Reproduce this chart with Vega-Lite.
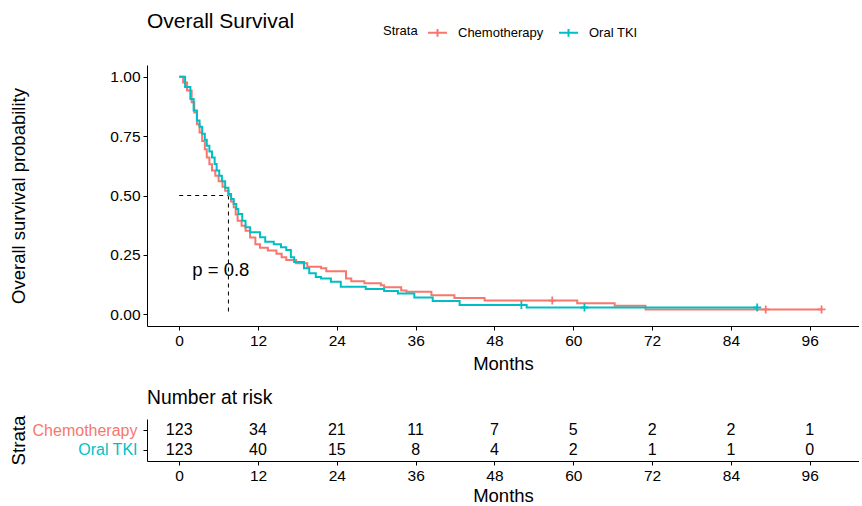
{
  "$schema": "https://vega.github.io/schema/vega-lite/v6.json",
  "padding": {"left": 9, "top": 11, "right": 0, "bottom": 0},
  "background": "white",
  "config": {
    "view": {"stroke": null},
    "font": "Liberation Sans",
    "axis": {"domainColor": "black", "tickColor": "black", "labelColor": "black", "titleColor": "black", "grid": false, "labelFont": "Liberation Sans", "titleFont": "Liberation Sans", "labelFontSize": 15.5, "titleFontSize": 18.5, "titleFontWeight": "normal", "tickSize": 4, "labelPadding": 3, "domainWidth": 1, "tickWidth": 1},
    "title": {"font": "Liberation Sans", "fontWeight": "normal", "anchor": "start", "frame": "group", "color": "black"},
    "legend": {"labelFont": "Liberation Sans", "titleFont": "Liberation Sans"}
  },
  "datasets": {
    "km": [
      {"strata": "Chemotherapy", "month": 0, "surv": 1.0},
      {"strata": "Chemotherapy", "month": 0.6, "surv": 0.976},
      {"strata": "Chemotherapy", "month": 1.2, "surv": 0.943},
      {"strata": "Chemotherapy", "month": 1.9, "surv": 0.893},
      {"strata": "Chemotherapy", "month": 2.3, "surv": 0.85},
      {"strata": "Chemotherapy", "month": 2.7, "surv": 0.8},
      {"strata": "Chemotherapy", "month": 3.1, "surv": 0.765},
      {"strata": "Chemotherapy", "month": 3.5, "surv": 0.73},
      {"strata": "Chemotherapy", "month": 3.9, "surv": 0.695},
      {"strata": "Chemotherapy", "month": 4.2, "surv": 0.66},
      {"strata": "Chemotherapy", "month": 4.6, "surv": 0.632},
      {"strata": "Chemotherapy", "month": 5.0, "surv": 0.605},
      {"strata": "Chemotherapy", "month": 5.5, "surv": 0.583},
      {"strata": "Chemotherapy", "month": 6.0, "surv": 0.56},
      {"strata": "Chemotherapy", "month": 6.6, "surv": 0.537},
      {"strata": "Chemotherapy", "month": 7.0, "surv": 0.52},
      {"strata": "Chemotherapy", "month": 7.5, "surv": 0.5},
      {"strata": "Chemotherapy", "month": 7.9, "surv": 0.475},
      {"strata": "Chemotherapy", "month": 8.3, "surv": 0.45},
      {"strata": "Chemotherapy", "month": 8.6, "surv": 0.42},
      {"strata": "Chemotherapy", "month": 8.9, "surv": 0.394},
      {"strata": "Chemotherapy", "month": 9.5, "surv": 0.372},
      {"strata": "Chemotherapy", "month": 10.1, "surv": 0.351},
      {"strata": "Chemotherapy", "month": 10.8, "surv": 0.323},
      {"strata": "Chemotherapy", "month": 11.6, "surv": 0.295},
      {"strata": "Chemotherapy", "month": 12.3, "surv": 0.28},
      {"strata": "Chemotherapy", "month": 13.5, "surv": 0.268},
      {"strata": "Chemotherapy", "month": 14.8, "surv": 0.255},
      {"strata": "Chemotherapy", "month": 15.6, "surv": 0.24},
      {"strata": "Chemotherapy", "month": 16.3, "surv": 0.228},
      {"strata": "Chemotherapy", "month": 17.8, "surv": 0.214},
      {"strata": "Chemotherapy", "month": 19.5, "surv": 0.2},
      {"strata": "Chemotherapy", "month": 21.6, "surv": 0.193},
      {"strata": "Chemotherapy", "month": 22.4, "surv": 0.181},
      {"strata": "Chemotherapy", "month": 25.4, "surv": 0.15},
      {"strata": "Chemotherapy", "month": 26.2, "surv": 0.139},
      {"strata": "Chemotherapy", "month": 28.2, "surv": 0.13},
      {"strata": "Chemotherapy", "month": 30.7, "surv": 0.122},
      {"strata": "Chemotherapy", "month": 31.2, "surv": 0.113},
      {"strata": "Chemotherapy", "month": 33.8, "surv": 0.1},
      {"strata": "Chemotherapy", "month": 34.6, "surv": 0.094},
      {"strata": "Chemotherapy", "month": 38.4, "surv": 0.08},
      {"strata": "Chemotherapy", "month": 41.9, "surv": 0.068},
      {"strata": "Chemotherapy", "month": 46.5, "surv": 0.057},
      {"strata": "Chemotherapy", "month": 60.6, "surv": 0.046},
      {"strata": "Chemotherapy", "month": 66.3, "surv": 0.035},
      {"strata": "Chemotherapy", "month": 71.0, "surv": 0.02},
      {"strata": "Chemotherapy", "month": 97.8, "surv": 0.02},
      {"strata": "Oral TKI", "month": 0, "surv": 1.0},
      {"strata": "Oral TKI", "month": 0.9, "surv": 0.957},
      {"strata": "Oral TKI", "month": 1.7, "surv": 0.907},
      {"strata": "Oral TKI", "month": 2.2, "surv": 0.858},
      {"strata": "Oral TKI", "month": 2.7, "surv": 0.816},
      {"strata": "Oral TKI", "month": 3.1, "surv": 0.79},
      {"strata": "Oral TKI", "month": 3.5, "surv": 0.76},
      {"strata": "Oral TKI", "month": 3.9, "surv": 0.735},
      {"strata": "Oral TKI", "month": 4.2, "surv": 0.71},
      {"strata": "Oral TKI", "month": 4.6, "surv": 0.685},
      {"strata": "Oral TKI", "month": 5.0, "surv": 0.66},
      {"strata": "Oral TKI", "month": 5.4, "surv": 0.633},
      {"strata": "Oral TKI", "month": 5.7, "surv": 0.605},
      {"strata": "Oral TKI", "month": 6.1, "surv": 0.583},
      {"strata": "Oral TKI", "month": 6.5, "surv": 0.56},
      {"strata": "Oral TKI", "month": 7.0, "surv": 0.533},
      {"strata": "Oral TKI", "month": 7.5, "surv": 0.506},
      {"strata": "Oral TKI", "month": 7.9, "surv": 0.485},
      {"strata": "Oral TKI", "month": 8.3, "surv": 0.464},
      {"strata": "Oral TKI", "month": 8.7, "surv": 0.443},
      {"strata": "Oral TKI", "month": 9.0, "surv": 0.422},
      {"strata": "Oral TKI", "month": 9.6, "surv": 0.394},
      {"strata": "Oral TKI", "month": 10.1, "surv": 0.366},
      {"strata": "Oral TKI", "month": 10.8, "surv": 0.345},
      {"strata": "Oral TKI", "month": 12.3, "surv": 0.324},
      {"strata": "Oral TKI", "month": 13.1, "surv": 0.305},
      {"strata": "Oral TKI", "month": 14.4, "surv": 0.295},
      {"strata": "Oral TKI", "month": 15.5, "surv": 0.282},
      {"strata": "Oral TKI", "month": 16.3, "surv": 0.27},
      {"strata": "Oral TKI", "month": 17.0, "surv": 0.24},
      {"strata": "Oral TKI", "month": 17.5, "surv": 0.22},
      {"strata": "Oral TKI", "month": 19.0, "surv": 0.193},
      {"strata": "Oral TKI", "month": 19.8, "surv": 0.172},
      {"strata": "Oral TKI", "month": 20.8, "surv": 0.157},
      {"strata": "Oral TKI", "month": 21.6, "surv": 0.15},
      {"strata": "Oral TKI", "month": 23.1, "surv": 0.136},
      {"strata": "Oral TKI", "month": 24.6, "surv": 0.115},
      {"strata": "Oral TKI", "month": 28.4, "surv": 0.106},
      {"strata": "Oral TKI", "month": 31.2, "surv": 0.097},
      {"strata": "Oral TKI", "month": 33.3, "surv": 0.087},
      {"strata": "Oral TKI", "month": 35.8, "surv": 0.07},
      {"strata": "Oral TKI", "month": 38.6, "surv": 0.055},
      {"strata": "Oral TKI", "month": 42.7, "surv": 0.038},
      {"strata": "Oral TKI", "month": 52.9, "surv": 0.028},
      {"strata": "Oral TKI", "month": 88.0, "surv": 0.028}
    ],
    "censor": [
      {"strata": "Chemotherapy", "month": 56.8, "surv": 0.057},
      {"strata": "Chemotherapy", "month": 89.3, "surv": 0.02},
      {"strata": "Chemotherapy", "month": 97.8, "surv": 0.02},
      {"strata": "Oral TKI", "month": 52.1, "surv": 0.038},
      {"strata": "Oral TKI", "month": 61.7, "surv": 0.028},
      {"strata": "Oral TKI", "month": 88.0, "surv": 0.028}
    ],
    "median": [
      {"month": 0, "month2": 7.5, "surv": 0.5, "surv2": 0.5},
      {"month": 7.5, "month2": 7.5, "surv": 0.5, "surv2": 0}
    ],
    "pval": [
      {"month": 2, "surv": 0.185, "label": "p = 0.8"}
    ],
    "risk": [
      {"strata": "Chemotherapy", "month": 0, "n": 123},
      {"strata": "Chemotherapy", "month": 12, "n": 34},
      {"strata": "Chemotherapy", "month": 24, "n": 21},
      {"strata": "Chemotherapy", "month": 36, "n": 11},
      {"strata": "Chemotherapy", "month": 48, "n": 7},
      {"strata": "Chemotherapy", "month": 60, "n": 5},
      {"strata": "Chemotherapy", "month": 72, "n": 2},
      {"strata": "Chemotherapy", "month": 84, "n": 2},
      {"strata": "Chemotherapy", "month": 96, "n": 1},
      {"strata": "Oral TKI", "month": 0, "n": 123},
      {"strata": "Oral TKI", "month": 12, "n": 40},
      {"strata": "Oral TKI", "month": 24, "n": 15},
      {"strata": "Oral TKI", "month": 36, "n": 8},
      {"strata": "Oral TKI", "month": 48, "n": 4},
      {"strata": "Oral TKI", "month": 60, "n": 2},
      {"strata": "Oral TKI", "month": 72, "n": 1},
      {"strata": "Oral TKI", "month": 84, "n": 1},
      {"strata": "Oral TKI", "month": 96, "n": 0}
    ]
  },
  "bounds": "flush",
  "spacing": 93,
  "vconcat": [
    {
      "title": {"text": "Overall Survival", "fontSize": 21, "offset": 33},
      "width": 712,
      "height": 261,
      "encoding": {
        "x": {"field": "month", "type": "quantitative", "scale": {"domain": [-4.9, 103.5], "nice": false, "zero": false},
              "axis": {"values": [0, 12, 24, 36, 48, 60, 72, 84, 96], "title": "Months", "titlePadding": 6}},
        "y": {"field": "surv", "type": "quantitative", "scale": {"domain": [-0.05, 1.05], "nice": false, "zero": false},
              "axis": {"values": [0, 0.25, 0.5, 0.75, 1], "format": ".2f", "title": "Overall survival probability", "titlePadding": 81}}
      },
      "layer": [
        {
          "data": {"name": "median"},
          "mark": {"type": "rule", "color": "black", "strokeWidth": 1, "strokeDash": [4, 4]},
          "encoding": {"x2": {"field": "month2"}, "y2": {"field": "surv2"}}
        },
        {
          "data": {"name": "km"},
          "mark": {"type": "line", "interpolate": "step-after", "strokeWidth": 2},
          "encoding": {
            "color": {"field": "strata", "type": "nominal", "scale": {"domain": ["Chemotherapy", "Oral TKI"], "range": ["#F8766D", "#00BFC4"]},
                      "legend": {"title": "Strata", "orient": "none", "legendX": 236, "legendY": -43, "direction": "horizontal", "titleOrient": "left", "titleFontSize": 13, "titleFontWeight": "normal", "titleColor": "black", "labelFontSize": 13, "labelColor": "black", "titlePadding": 9, "labelOffset": 10, "columnPadding": 11, "symbolType": "M-1,0H1M0,-0.4V0.4", "symbolSize": 361, "symbolStrokeWidth": 2, "symbolFillColor": "transparent"}}
          }
        },
        {
          "data": {"name": "censor"},
          "mark": {"type": "point", "shape": "M-1,0H1M0,-1V1", "filled": false, "size": 64, "strokeWidth": 1.8, "opacity": 1},
          "encoding": {
            "color": {"field": "strata", "type": "nominal", "scale": {"domain": ["Chemotherapy", "Oral TKI"], "range": ["#F8766D", "#00BFC4"]},
                      "legend": {"title": "Strata", "orient": "none", "legendX": 236, "legendY": -43, "direction": "horizontal", "titleOrient": "left", "titleFontSize": 13, "titleFontWeight": "normal", "titleColor": "black", "labelFontSize": 13, "labelColor": "black", "titlePadding": 9, "labelOffset": 10, "columnPadding": 11, "symbolType": "M-1,0H1M0,-0.4V0.4", "symbolSize": 361, "symbolStrokeWidth": 2, "symbolFillColor": "transparent"}}
          }
        },
        {
          "data": {"name": "pval"},
          "mark": {"type": "text", "align": "left", "baseline": "middle", "fontSize": 18.5, "color": "black", "font": "Liberation Sans"},
          "encoding": {"text": {"field": "label"}}
        }
      ]
    },
    {
      "title": {"text": "Number at risk", "fontSize": 19.3, "offset": 7},
      "width": 712,
      "height": 42,
      "data": {"name": "risk"},
      "mark": {"type": "text", "fontSize": 16, "color": "black", "font": "Liberation Sans", "baseline": "middle"},
      "encoding": {
        "x": {"field": "month", "type": "quantitative", "scale": {"domain": [-4.9, 103.5], "nice": false, "zero": false},
              "axis": {"values": [0, 12, 24, 36, 48, 60, 72, 84, 96], "title": "Months", "titlePadding": 3}},
        "y": {"field": "strata", "type": "nominal", "sort": ["Chemotherapy", "Oral TKI"], "scale": {"type": "point", "padding": 0.6},
              "axis": {"title": "Strata", "titlePadding": 4, "labelPadding": 6, "labelFontSize": 16, "titleFontSize": 18.7,
                       "labelColor": {"condition": {"test": "datum.value == 'Chemotherapy'", "value": "#F8766D"}, "value": "#00BFC4"}}},
        "text": {"field": "n", "type": "quantitative"}
      }
    }
  ]
}
